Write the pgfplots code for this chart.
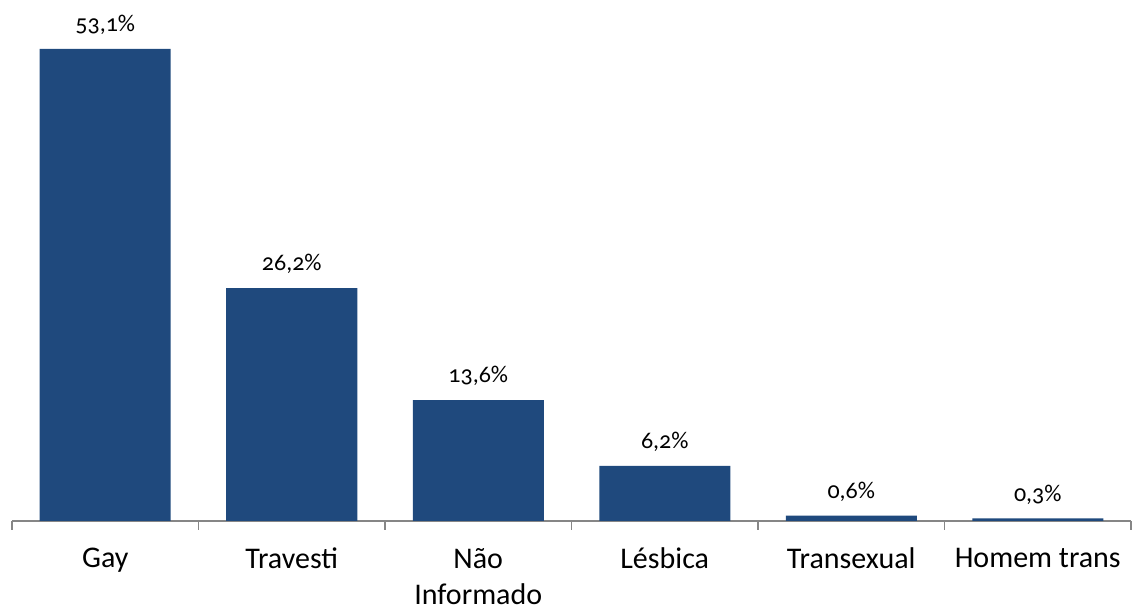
\documentclass[border=0pt]{standalone}
\usepackage{pgfplots}
\pgfplotsset{compat=1.18}
\usepackage{fontspec}
\setmainfont{Carlito}[Numbers=OldStyle]
\definecolor{barblue}{RGB}{31,73,125}
\definecolor{axisgray}{RGB}{134,134,134}

\begin{document}
\begin{tikzpicture}
\begin{axis}[
    scale only axis,
    width=559.5pt,
    height=260.5pt,
    xmin=-0.5, xmax=5.5,
    ymin=0, ymax=58.6,
    ybar,
    bar width=65.5pt,
    axis x line*=bottom,
    axis y line=none,
    axis line style={axisgray, line width=0.8pt},
    xtick={0,...,5},
    xticklabels={Gay,Travesti,{Não\\Informado},Lésbica,Transexual,Homem trans},
    xticklabel style={align=center, font=\fontsize{15}{18}\selectfont, text=black, yshift=-10pt},
    major tick length=0pt,
    minor xtick={-0.5,0.5,...,5.5},
    minor tick length=4.5pt,
    tick align=outside,
    tick style={axisgray, line width=0.8pt},
    point meta=explicit symbolic,
    nodes near coords,
    every node near coord/.append style={font=\fontsize{12}{13}\selectfont, text=black, yshift=3.5pt},
    clip=false,
]
\addplot[fill=barblue, draw=none] coordinates {
    (0,53.1) [53,1\%]
    (1,26.2) [26,2\%]
    (2,13.6) [13,6\%]
    (3,6.2) [6,2\%]
    (4,0.6) [0,6\%]
    (5,0.3) [0,3\%]
};
\end{axis}
\path ([xshift=-6pt,yshift=-44.5pt]current axis.south west) rectangle ([xshift=2.5pt]current axis.north east);
\end{tikzpicture}
\end{document}
